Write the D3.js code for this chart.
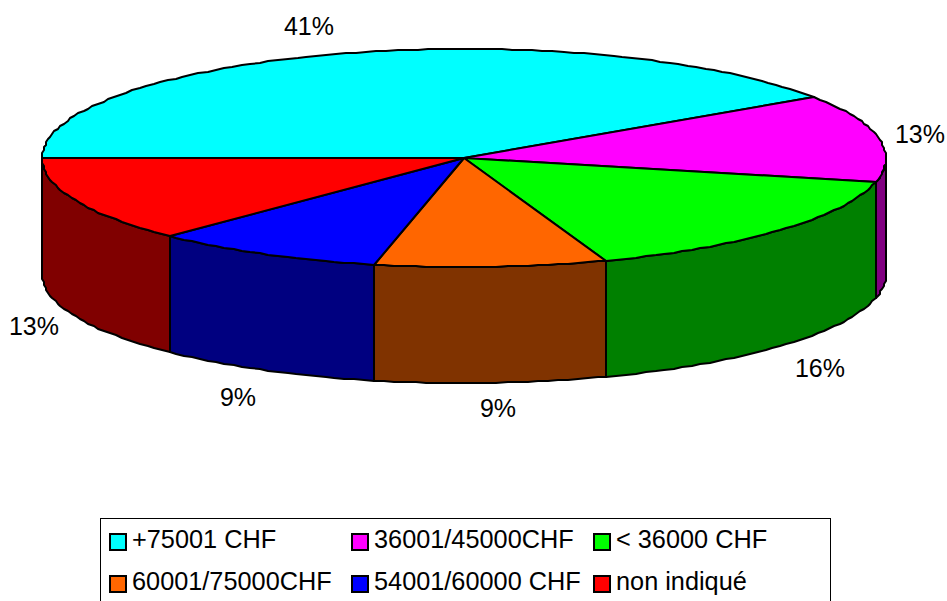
<!DOCTYPE html>
<html><head><meta charset="utf-8">
<script src="https://cdn.jsdelivr.net/npm/d3@7"></script>
<style>html,body{margin:0;padding:0;background:#fff;overflow:hidden}svg{display:block}text{font-family:"Liberation Sans",Arial,sans-serif;fill:#000}</style>
</head><body><svg id="c" width="947" height="601"></svg>
<script>
const categories=["+75001 CHF","36001/45000CHF","< 36000 CHF","60001/75000CHF","54001/60000 CHF","non indiqué"];
const values=[40.6,13,15.9,8.9,8.9,12.7];
const labels=["41%","13%","16%","9%","9%","13%"];
const topColors=["#00ffff","#ff00ff","#00ff00","#ff6600","#0000ff","#ff0000"];
const sideColors=["#008080","#800080","#008000","#803300","#000080","#800000"];
const labelPos=[[309,26],[920,134],[820,368],[498,408],[238,397],[34,326]];
const legendCols=[110,352,594], legendRows=[540,582];

const svg=d3.select("#c");
const cx=464,cy=158,rx=422,ry=109,depth=116;
const sx=d3.scaleLinear().domain([-1,1]).range([cx-rx,cx+rx]);
const sy=d3.scaleLinear().domain([-1,1]).range([cy+ry,cy-ry]);
const pie=d3.pie().sort(null).startAngle(-Math.PI/2).endAngle(Math.PI*1.5);
const arcs=pie(values);
const pt=(a,dy=0)=>[Math.round(sx(Math.sin(a))/2)*2,Math.round(sy(Math.cos(a))+dy)];
const sample=(a0,a1,dy=0)=>{const n=Math.max(2,Math.ceil(Math.abs(a1-a0)/0.025));return d3.range(n+1).map(i=>pt(a0+(a1-a0)*i/n,dy));};
const line=d3.line();
arcs.forEach((d,i)=>{
  const a0=Math.max(d.startAngle,Math.PI/2),a1=Math.min(d.endAngle,Math.PI*1.5);
  if(a0>=a1) return;
  const poly=sample(a0,a1,0).concat(sample(a1,a0,depth));
  svg.append("path").attr("d",line(poly)+"Z").attr("fill",sideColors[i]).attr("stroke","#000").attr("stroke-width",2).attr("stroke-linejoin","round");
});
arcs.forEach((d,i)=>{
  const poly=[[cx,cy]].concat(sample(d.startAngle,d.endAngle));
  svg.append("path").attr("d",line(poly)+"Z").attr("fill",topColors[i]).attr("stroke","#000").attr("stroke-width",2).attr("stroke-linejoin","round");
});
labels.forEach((t,i)=>svg.append("text").attr("x",labelPos[i][0]).attr("y",labelPos[i][1]+9).attr("text-anchor","middle").attr("font-size",25).text(t));
svg.append("rect").attr("x",100.5).attr("y",518.5).attr("width",730).attr("height",100).attr("fill","#fff").attr("stroke","#000").attr("stroke-width",1);
categories.forEach((t,i)=>{
  const x=legendCols[i%3],y=legendRows[Math.floor(i/3)];
  svg.append("rect").attr("x",x).attr("y",y-6).attr("width",16).attr("height",16).attr("fill",topColors[i]).attr("stroke","#000").attr("stroke-width",2);
  svg.append("text").attr("x",x+22).attr("y",y+8).attr("font-size",25.3).text(t);
});
</script></body></html>
